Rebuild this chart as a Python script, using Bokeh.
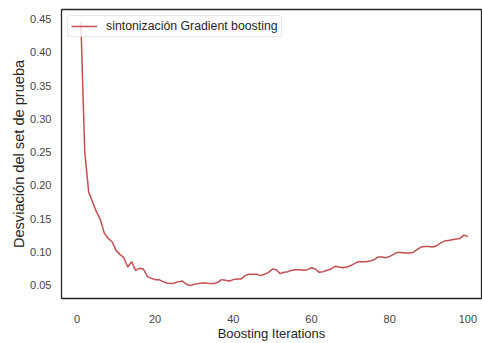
from bokeh.plotting import figure
from bokeh.models import Range1d, FixedTicker, Legend, LegendItem, NumeralTickFormatter
from bokeh.embed import file_html
from bokeh.resources import INLINE

iterations = list(range(1, 101))
deviance = [
    0.445, 0.250, 0.190, 0.175, 0.160, 0.148, 0.128, 0.120, 0.115, 0.102,
    0.096, 0.091, 0.077, 0.085, 0.072, 0.075, 0.074, 0.063, 0.060, 0.058,
    0.058, 0.055, 0.053, 0.052, 0.053, 0.055, 0.056, 0.051, 0.049, 0.051,
    0.052, 0.053, 0.053, 0.052, 0.052, 0.054, 0.058, 0.057, 0.056, 0.058,
    0.059, 0.059, 0.064, 0.066, 0.066, 0.066, 0.064, 0.066, 0.069, 0.074,
    0.073, 0.067, 0.069, 0.070, 0.072, 0.073, 0.073, 0.072, 0.073, 0.076,
    0.074, 0.069, 0.070, 0.072, 0.074, 0.078, 0.077, 0.076, 0.077, 0.079,
    0.082, 0.085, 0.085, 0.085, 0.086, 0.088, 0.092, 0.092, 0.091, 0.093,
    0.096, 0.099, 0.099, 0.098, 0.098, 0.099, 0.103, 0.107, 0.108, 0.108,
    0.107, 0.109, 0.113, 0.116, 0.117, 0.118, 0.119, 0.120, 0.125, 0.123,
]
x_ticks = [0, 20, 40, 60, 80, 100]
y_ticks = [0.05, 0.10, 0.15, 0.20, 0.25, 0.30, 0.35, 0.40, 0.45]
series_label = "sintonización Gradient boosting"
x_label = "Boosting Iterations"
y_label = "Desviación del set de prueba"

FONT = "Liberation Sans"
TEXT = "#444444"

p = figure(width=482, height=343, output_backend="svg", toolbar_location=None,
           min_border_left=61, min_border_right=1, min_border_top=9, min_border_bottom=36)
p.x_range = Range1d(-3.95, 103.5)
p.y_range = Range1d(0.0296, 0.4646)

line = p.line(iterations, deviance, line_color="#c44e52", line_width=1.5)

p.xgrid.visible = False
p.ygrid.visible = False
p.outline_line_color = "#262626"
p.outline_line_width = 1.3

for ax in (p.xaxis[0], p.yaxis[0]):
    ax.axis_line_color = None
    ax.major_tick_line_color = None
    ax.minor_tick_line_color = None
    ax.major_label_text_font = FONT
    ax.major_label_text_font_size = "11px"
    ax.major_label_text_color = TEXT
    ax.axis_label_text_font = FONT
    ax.axis_label_text_font_style = "normal"
    ax.axis_label_text_color = "#262626"

p.xaxis.axis_label_text_font_size = "13px"
p.yaxis.axis_label_text_font_size = "14.6px"
p.xaxis.ticker = FixedTicker(ticks=x_ticks)
p.yaxis.ticker = FixedTicker(ticks=y_ticks)
p.yaxis.formatter = NumeralTickFormatter(format="0.00")
p.xaxis.axis_label = x_label
p.yaxis.axis_label = y_label
p.xaxis.major_label_standoff = 10
p.xaxis.axis_label_standoff = 0
p.yaxis.major_label_standoff = 4
p.yaxis.axis_label_standoff = 0

legend = Legend(items=[LegendItem(label=series_label, renderers=[line])],
                location="top_left")
legend.label_text_font = FONT
legend.label_text_font_size = "12.3px"
legend.label_text_color = "#262626"
legend.border_line_color = "#d0d0d0"
legend.border_line_width = 1
legend.border_radius = 3
legend.background_fill_alpha = 0.8
legend.margin = 6
legend.padding = 3
legend.glyph_width = 26
legend.glyph_height = 12
legend.label_standoff = 9
legend.label_height = 12
p.add_layout(legend)

open("out.html", "w").write(file_html(p, INLINE))
